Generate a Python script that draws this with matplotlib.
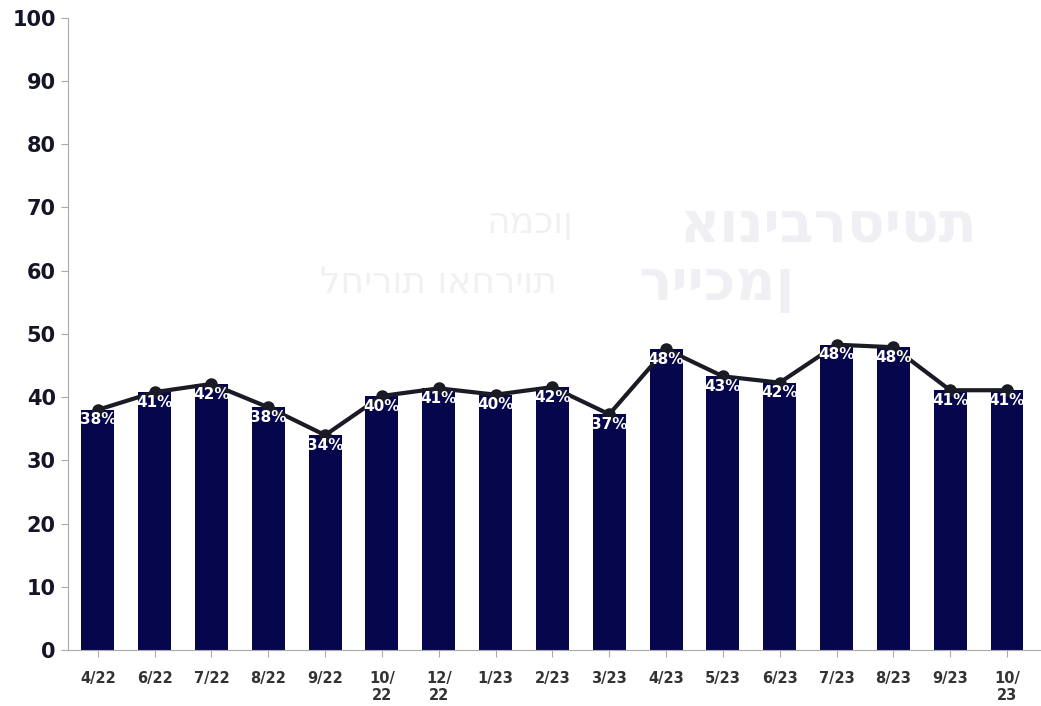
# recreate the monthly bar + line chart

import numpy as np
import matplotlib.pyplot as plt

# data
months = ['4/22', '6/22', '7/22', '8/22', '9/22', '10/\n22', '12/\n22', '1/23', '2/23',
          '3/23', '4/23', '5/23', '6/23', '7/23', '8/23', '9/23', '10/\n23']
values = [38.0, 40.8, 42.1, 38.4, 34.0, 40.2, 41.4, 40.4, 41.6,
          37.3, 47.6, 43.3, 42.3, 48.3, 47.9, 41.1, 41.1]
labels = ['38%', '41%', '42%', '38%', '34%', '40%', '41%', '40%', '42%',
          '37%', '48%', '43%', '42%', '48%', '48%', '41%', '41%']

fig = plt.figure(figsize=(10.41, 7.06), dpi=100)
ax = fig.add_axes([0.065, 0.079, 0.934, 0.896])

x = np.arange(len(months))
ax.bar(x, values, width=0.58, color='#06064d', zorder=2)
ax.plot(x, values, color='#1b1b26', lw=3, marker='o', markersize=8, zorder=3)

for xi, v, lab in zip(x, values, labels):
    ax.text(xi, v - 1.6, lab, ha='center', va='center', color='white',
            fontsize=11, fontweight='bold', zorder=4)

# faint watermark
ax.text(12.85, 67, 'אוניברסיטת', ha='center', va='center', fontsize=40,
        fontweight='bold', color='#f0f0f4', zorder=0)
ax.text(10.9, 57.5, 'רייכמן', ha='center', va='center', fontsize=40,
        fontweight='bold', color='#f0f0f4', zorder=0)
ax.text(7.6, 67.5, 'המכון', ha='center', va='center', fontsize=26,
        color='#f1f1f4', zorder=0)
ax.text(6.0, 58, 'לחירות ואחריות', ha='center', va='center', fontsize=26,
        color='#f1f1f4', zorder=0)

ax.set_xlim(-0.53, 16.58)
ax.set_ylim(0, 100)
ax.set_yticks(range(0, 101, 10))
ax.set_xticks(x)
ax.set_xticklabels(months, fontsize=10.5, fontweight='bold', color='#333333')
ax.tick_params(axis='y', labelsize=15, labelcolor='#151528', color='#aaaaaa', length=5)
ax.tick_params(axis='x', color='#aaaaaa', length=5, pad=10)
for lbl in ax.get_yticklabels():
    lbl.set_fontweight('bold')

ax.spines['top'].set_visible(False)
ax.spines['right'].set_visible(False)
ax.spines['left'].set_color('#aaaaaa')
ax.spines['bottom'].set_color('#aaaaaa')

plt.savefig('out.png', dpi=100)
